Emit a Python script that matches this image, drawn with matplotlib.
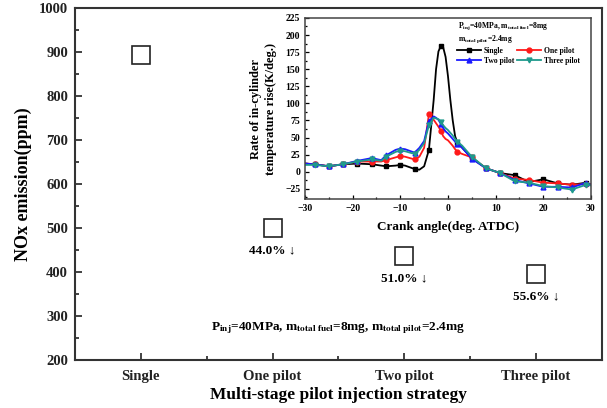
import numpy as np
import matplotlib
matplotlib.use('Agg')
import matplotlib.pyplot as plt
from matplotlib.ticker import MultipleLocator

plt.rcParams['font.family'] = ['Liberation Serif', 'DejaVu Serif']
plt.rcParams['font.weight'] = 'bold'
plt.rcParams['mathtext.fontset'] = 'stix'

# main chart data
strategies = ['Single', 'One pilot', 'Two pilot', 'Three pilot']
nox = [893, 500, 437, 396]
reductions = ['', '44.0% \u2193', '51.0% \u2193', '55.6% \u2193']

# inset data: rate of in-cylinder temperature rise
crank = [-30, -28, -25, -22, -19, -16, -14, -13, -11, -10, -9, -7, -6, -5, -4, -3,
         -2.5, -2, -1.5, -1, -0.5, 0, 0.5, 1, 1.5, 2, 3, 5, 8, 11, 14, 17, 20, 23, 26, 29, 30]
single = [12, 11, 8, 11, 12, 11, 9, 8, 9, 10, 9, 4, 3, 8, 32, 105,
          150, 176, 184, 182, 168, 140, 105, 75, 52, 42, 35, 20, 5, -2, -5, -15, -11, -17, -19, -16, -19]
one_pilot = [12, 11, 8, 11, 15, 15, 15, 17, 21, 23, 22, 18, 22, 35, 84, 76,
             71, 66, 60, 52, 48, 46, 42, 38, 33, 29, 26, 21, 5, -2, -10, -12, -16, -17, -19, -18, -18]
two_pilot = [12, 11, 8, 11, 16, 20, 17, 24, 32, 34, 33, 28, 35, 45, 74, 81,
             79, 76, 70, 64, 59, 56, 52, 48, 44, 41, 35, 19, 5, -2, -12, -17, -22, -22, -23, -16, -19]
three_pilot = [10, 10, 8, 11, 15, 18, 16, 22, 29, 31, 30, 26, 32, 42, 68, 79,
               78, 77, 73, 68, 64, 61, 57, 53, 48, 44, 38, 22, 5, -2, -14, -16, -21, -23, -26, -19, -20]
mark_angles = [-28, -25, -22, -19, -16, -13, -10, -7, -4, -1.5, 2, 5, 8, 11, 14, 17, 20, 23, 26, 29]

fig = plt.figure(figsize=(6.07, 4.08), dpi=100)
ax = fig.add_axes([0.1236, 0.1176, 0.868, 0.8624])

x = np.arange(1, len(strategies) + 1)
ax.plot(x, nox, linestyle='none', marker='s', markersize=12.5,
        markerfacecolor='white', markeredgecolor='#222222', markeredgewidth=1.2)
for xi, yi, lab in zip(x, nox, reductions):
    if lab:
        ax.annotate(lab, (xi, yi), xytext=(0, -16), textcoords='offset points',
                    ha='center', va='center', fontsize=9.5, fontweight='bold')

ax.text(0.5, 0.09, r'P$_{\mathbf{inj}}$=40MPa, m$_{\mathbf{total\ fuel}}$=8mg, m$_{\mathbf{total\ pilot}}$=2.4mg',
        transform=ax.transAxes, ha='center', va='center', fontsize=9.5, fontweight='bold')

ax.set_xlim(0.5, 4.5)
ax.set_ylim(200, 1000)
ax.set_xticks(x)
ax.set_xticklabels(strategies)
ax.xaxis.set_minor_locator(MultipleLocator(0.5))
ax.yaxis.set_major_locator(MultipleLocator(100))
ax.yaxis.set_minor_locator(MultipleLocator(50))
ax.tick_params(which='both', direction='in', labelsize=10.5, width=1.2, colors='#222222')
ax.tick_params(which='major', length=5)
ax.tick_params(which='minor', length=3)
ax.tick_params(axis='x', pad=7)
ax.tick_params(axis='y', pad=5)
for s in ax.spines.values():
    s.set_linewidth(1.5)
    s.set_color('#333333')
ax.set_xlabel('Multi-stage pilot injection strategy', fontsize=12.5, fontweight='bold', labelpad=3)
ax.set_ylabel('NOx emission(ppm)', fontsize=13, fontweight='bold', labelpad=5)

# inset
axin = fig.add_axes([0.5025, 0.512, 0.471, 0.444])
mask = np.isin(crank, mark_angles)
series = [(single, 'Single', 'black', 's'),
          (one_pilot, 'One pilot', '#ff1a1a', 'o'),
          (two_pilot, 'Two pilot', '#1a1aff', '^'),
          (three_pilot, 'Three pilot', '#1f9a8c', 'v')]
lines = []
for vals, name, col, mk in series:
    ln, = axin.plot(crank, vals, color=col, lw=1.3, marker=mk, markersize=3.5,
                    markevery=list(mask), label=name)
    lines.append(ln)

axin.set_xlim(-30, 30)
axin.set_ylim(-40, 225)
axin.xaxis.set_major_locator(MultipleLocator(10))
axin.xaxis.set_minor_locator(MultipleLocator(5))
axin.yaxis.set_major_locator(MultipleLocator(25))
axin.yaxis.set_minor_locator(MultipleLocator(12.5))
axin.tick_params(which='both', direction='in', labelsize=7, width=0.9)
axin.tick_params(which='major', length=3)
axin.tick_params(which='minor', length=1.5)
for s in axin.spines.values():
    s.set_linewidth(1.1)
    s.set_color('#444444')
axin.set_xlabel('Crank angle(deg. ATDC)', fontsize=9.5, fontweight='bold', labelpad=6)
axin.set_ylabel('Rate of in-cylinder\ntemperature rise(K/deg.)', fontsize=9, fontweight='bold',
                labelpad=6, linespacing=1.3)

axin.text(0.535, 0.955, r'P$_{\mathbf{inj}}$=40MPa, m$_{\mathbf{total\ fuel}}$=8mg',
          transform=axin.transAxes, ha='left', va='center', fontsize=5.5, fontweight='bold')
axin.text(0.535, 0.885, r'm$_{\mathbf{total\ pilot}}$=2.4mg',
          transform=axin.transAxes, ha='left', va='center', fontsize=5.5, fontweight='bold')
# row order: Single, One pilot / Two pilot, Three pilot
order = [0, 2, 1, 3]
axin.legend([lines[i] for i in order], [series[i][1] for i in order],
            loc='upper left', bbox_to_anchor=(0.515, 0.865), ncol=2, frameon=False,
            fontsize=5.5, handlelength=3.2, columnspacing=0.4, handletextpad=0.3,
            labelspacing=0.25, borderpad=0.1)

fig.savefig('out.png', dpi=100)
